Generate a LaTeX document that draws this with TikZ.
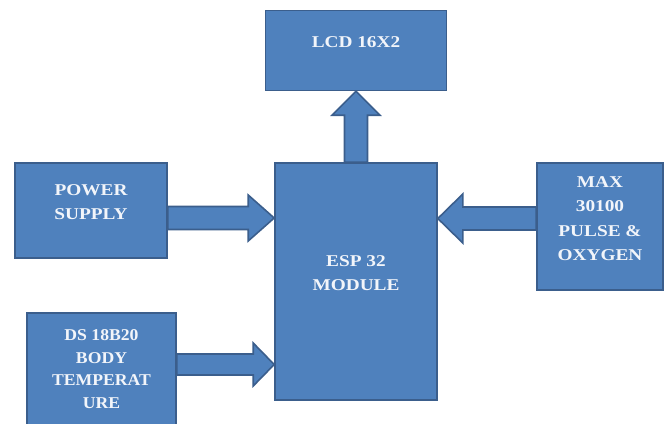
\documentclass[tikz,border=0pt]{standalone}
\usepackage{fontspec}
\setmainfont{Liberation Serif}
\newfontfamily\boxfont{Liberation Serif}[FakeStretch=1.17]
\newfontfamily\dsfont{Liberation Serif}[FakeStretch=1.07]
\usepackage{xcolor}
\usetikzlibrary{arrows.meta, positioning, calc}

\definecolor{boxblue}{HTML}{4F81BD}
\definecolor{boxedge}{HTML}{3B5E8C}
\definecolor{boxtext}{HTML}{F2F5FA}

\tikzset{
    blockbox/.style={rectangle, draw=boxedge, fill=boxblue, line width=1.6pt},
    blocktext/.style={yshift=8pt, align=center, text=boxtext,
        font=\boxfont\bfseries\fontsize{16.5}{24}\selectfont},
    blockarrow/.style={draw=boxedge, fill=boxblue, line width=1.6pt, line join=miter}
}

\begin{document}
\begin{tikzpicture}[x=1pt, y=-1pt]
    \path[use as bounding box, clip] (0,0) rectangle (668,423);

    % boxes
    \node[blockbox, minimum width=162pt, minimum height=237pt,
        label={[blocktext]center:ESP 32\\MODULE}] (esp) at (356,281.5) {};
    \node[blockbox, minimum width=181pt, minimum height=80pt, above=71pt of esp,
        label={[blocktext]center:LCD 16X2}] (lcd) {};
    \node[blockbox, minimum width=152pt, minimum height=95pt,
        label={[blocktext]center:POWER\\SUPPLY}] (pwr) at (91,210.5) {};
    \node[blockbox, minimum width=126pt, minimum height=127pt,
        label={[blocktext, font=\boxfont\bfseries\fontsize{16.5}{24.4}\selectfont]center:MAX\\30100\\PULSE \&\\OXYGEN}] (max) at (600,226.5) {};
    \node[blockbox, minimum width=149pt, minimum height=128pt,
        label={[blocktext, font=\dsfont\bfseries\fontsize{16.5}{22.8}\selectfont]center:DS 18B20\\BODY\\TEMPERAT\\URE}] (ds) at (101.5,377) {};

    % arrow ends
    \coordinate (pwrout) at (pwr.east |- 0,218);
    \coordinate (pwrin) at (esp.west |- pwrout);
    \coordinate (maxout) at (max.west |- 0,218.5);
    \coordinate (maxin) at (esp.east |- maxout);
    \coordinate (dsout) at (ds.east |- 0,364.5);
    \coordinate (dsin) at (esp.west |- dsout);

    % block arrows
    \draw[blockarrow] (esp.north) ++(-11.5,0) -- ($(lcd.south)+(-11.5,24)$)
        -- ($(lcd.south)+(-24,24)$) -- (lcd.south) -- ($(lcd.south)+(24,24)$)
        -- ($(lcd.south)+(11.5,24)$) -- ($(esp.north)+(11.5,0)$) -- cycle;
    \draw[blockarrow] ($(pwrout)+(0,-11.5)$) -- ($(pwrin)+(-26,-11.5)$)
        -- ($(pwrin)+(-26,-23)$) -- (pwrin) -- ($(pwrin)+(-26,23)$)
        -- ($(pwrin)+(-26,11.5)$) -- ($(pwrout)+(0,11.5)$) -- cycle;
    \draw[blockarrow] ($(maxout)+(0,-11.5)$) -- ($(maxin)+(25,-11.5)$)
        -- ($(maxin)+(25,-24.5)$) -- (maxin) -- ($(maxin)+(25,24.5)$)
        -- ($(maxin)+(25,11.5)$) -- ($(maxout)+(0,11.5)$) -- cycle;
    \draw[blockarrow] ($(dsout)+(0,-10.5)$) -- ($(dsin)+(-21,-10.5)$)
        -- ($(dsin)+(-21,-21.5)$) -- (dsin) -- ($(dsin)+(-21,21.5)$)
        -- ($(dsin)+(-21,10.5)$) -- ($(dsout)+(0,10.5)$) -- cycle;
\end{tikzpicture}
\end{document}
